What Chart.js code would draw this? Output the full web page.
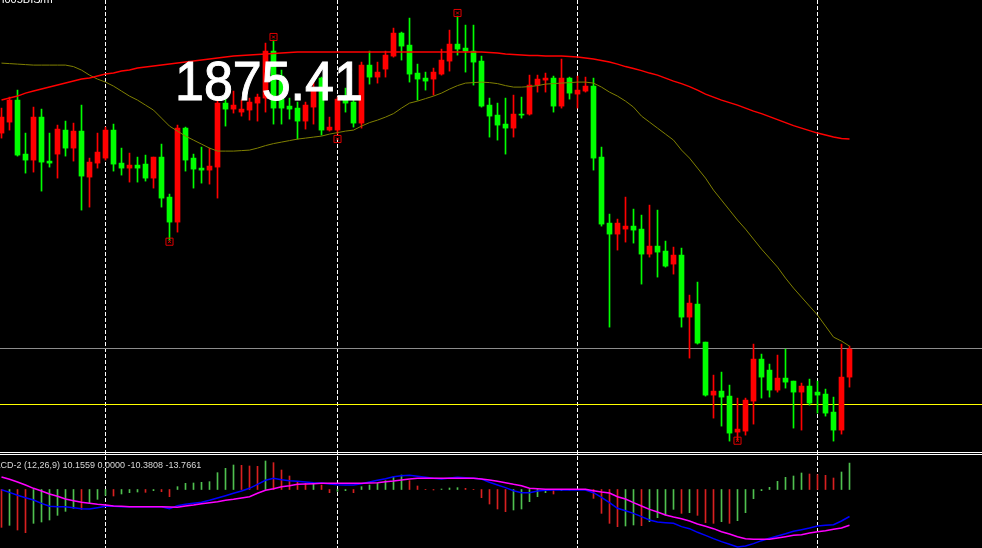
<!DOCTYPE html>
<html><head><meta charset="utf-8">
<script src="https://cdn.jsdelivr.net/npm/chart.js@4/dist/chart.umd.min.js"></script>
<style>
html,body{margin:0;padding:0;background:#000;overflow:hidden}
#wrap{position:relative;width:982px;height:548px;background:#000}
canvas{display:block}
</style></head><body><div id="wrap"><canvas id="c" width="982" height="548"></canvas></div>
<script>
// ---- price data (OHLC per bar) ----
const opens=[1897.0,1898.1,1900.3,1894.9,1894.3,1898.6,1894.2,1894.9,1897.3,1895.5,
1897.2,1892.6,1894.0,1894.5,1897.3,1894.0,1893.5,1893.8,1893.9,1892.5,
1894.6,1890.6,1888.1,1897.5,1894.5,1893.5,1893.3,1893.6,1900.0,1899.4,
1899.1,1899.3,1900.0,1900.5,1905.2,1902.7,1899.7,1899.5,1898.2,1899.6,
1902.5,1897.3,1897.3,1900.4,1900.1,1898.0,1903.8,1902.6,1903.4,1904.7,
1907.0,1905.8,1903.0,1902.5,1902.4,1902.9,1904.2,1905.9,1905.5,1905.2,
1904.2,1899.8,1898.8,1897.9,1897.5,1898.9,1898.9,1901.8,1902.3,1902.5,
1899.7,1902.5,1900.9,1901.2,1901.7,1894.6,1888.0,1886.9,1887.4,1887.7,
1887.4,1884.9,1885.7,1885.2,1883.9,1884.8,1878.6,1879.9,1876.1,1870.8,
1871.2,1870.7,1867.1,1867.2,1870.2,1874.4,1873.3,1871.3,1872.5,1872.2,
1871.1,1871.7,1871.1,1870.9,1869.1,1867.3,1872.6];
const highs=[1899.5,1900.6,1901.3,1897.0,1899.6,1899.4,1897.0,1897.8,1898.2,1898.0,
1899.8,1894.5,1897.0,1897.6,1897.9,1895.5,1895.0,1894.6,1894.8,1894.6,
1895.9,1890.9,1897.8,1897.6,1894.9,1895.6,1895.5,1900.3,1900.6,1901.2,
1900.3,1900.5,1900.9,1906.0,1906.3,1903.3,1900.5,1900.1,1900.1,1902.5,
1902.6,1898.6,1900.6,1901.5,1900.7,1904.1,1905.2,1904.1,1905.2,1907.5,
1907.1,1908.5,1903.9,1903.1,1903.5,1905.4,1907.3,1908.7,1907.8,1907.8,
1904.7,1900.5,1900.0,1900.5,1900.8,1900.6,1902.8,1902.8,1903.0,1902.7,
1904.4,1902.6,1902.7,1902.6,1902.5,1895.6,1888.9,1888.4,1890.6,1889.4,
1888.8,1889.8,1889.3,1886.2,1885.6,1885.5,1880.8,1882.1,1876.1,1872.8,
1873.1,1871.8,1870.5,1870.5,1875.9,1874.9,1873.9,1874.8,1875.4,1872.2,
1872.0,1872.4,1872.2,1871.4,1870.6,1875.9,1875.7];
const lows=[1896.5,1897.3,1894.7,1893.0,1893.1,1891.2,1893.6,1892.5,1894.7,1894.2,
1889.3,1889.6,1893.5,1894.3,1893.2,1892.8,1892.1,1892.1,1892.2,1891.5,
1889.6,1886.3,1887.1,1893.2,1891.5,1892.0,1891.9,1890.5,1897.7,1899.0,
1898.7,1898.3,1898.2,1899.1,1897.9,1897.9,1898.4,1896.4,1897.4,1897.9,
1896.8,1897.2,1896.9,1899.1,1897.6,1897.5,1901.9,1902.0,1902.6,1904.6,
1904.3,1902.1,1900.3,1901.3,1900.8,1902.8,1903.2,1904.8,1903.1,1901.8,
1899.6,1896.6,1896.3,1894.9,1896.6,1898.5,1898.8,1901.1,1901.1,1899.1,
1899.5,1900.4,1899.5,1901.1,1893.3,1887.7,1877.6,1885.3,1886.1,1886.0,
1881.9,1884.6,1882.6,1883.6,1882.9,1877.6,1874.5,1875.9,1870.7,1868.5,
1867.7,1866.2,1866.3,1866.8,1867.9,1870.5,1870.6,1871.1,1871.5,1867.5,
1867.3,1869.8,1869.0,1868.7,1866.2,1866.9,1871.6];
const closes=[1898.6,1900.3,1894.8,1894.3,1898.6,1894.1,1894.0,1897.4,1895.5,1897.2,
1892.7,1894.1,1895.1,1897.3,1893.9,1893.5,1893.8,1893.5,1892.5,1894.6,
1890.5,1888.1,1897.5,1894.3,1893.4,1893.3,1893.7,1900.0,1899.4,1899.8,
1899.4,1900.1,1900.6,1905.2,1899.5,1899.5,1899.4,1898.2,1899.8,1901.5,
1897.3,1897.6,1900.4,1900.0,1898.0,1903.8,1902.6,1903.1,1904.8,1907.0,
1905.7,1902.9,1902.4,1902.2,1903.1,1904.3,1905.9,1905.4,1905.2,1904.1,
1899.7,1898.7,1897.8,1897.5,1898.9,1898.8,1901.8,1902.4,1902.5,1899.7,
1902.5,1901.0,1901.3,1901.7,1894.5,1887.9,1886.9,1888.0,1887.7,1887.3,
1884.9,1885.7,1885.1,1883.7,1884.8,1878.6,1880.0,1876.0,1870.8,1871.2,
1870.6,1867.0,1867.4,1870.3,1874.4,1872.6,1871.3,1872.5,1872.1,1871.1,
1871.7,1870.0,1870.8,1869.0,1867.3,1872.6,1875.41];
// ---- moving averages ----
const maSlow=[1900.3,1900.5,1900.7,1901.0,1901.2,1901.4,1901.6,1901.8,1902.0,1902.2,
1902.4,1902.5,1902.7,1902.9,1903.0,1903.2,1903.3,1903.5,1903.6,1903.7,
1903.8,1903.9,1904.0,1904.1,1904.2,1904.3,1904.4,1904.5,1904.6,1904.7,
1904.75,1904.8,1904.85,1904.9,1904.95,1905.0,1905.05,1905.1,1905.1,1905.1,
1905.1,1905.1,1905.1,1905.1,1905.1,1905.1,1905.1,1905.1,1905.1,1905.1,
1905.1,1905.1,1905.1,1905.1,1905.1,1905.1,1905.1,1905.1,1905.1,1905.1,
1905.1,1905.05,1905.0,1904.9,1904.85,1904.8,1904.75,1904.75,1904.7,1904.7,
1904.7,1904.65,1904.6,1904.5,1904.4,1904.25,1904.1,1903.9,1903.65,1903.45,
1903.25,1903.0,1902.8,1902.5,1902.2,1901.95,1901.65,1901.3,1900.9,1900.6,
1900.3,1900.05,1899.8,1899.5,1899.2,1898.95,1898.65,1898.35,1898.05,1897.75,
1897.5,1897.25,1897.0,1896.8,1896.6,1896.45,1896.4];
const maFast=[1904.0,1903.95,1903.9,1903.85,1903.8,1903.8,1903.8,1903.8,1903.8,1903.65,
1903.3,1902.8,1902.4,1902.1,1901.7,1901.2,1900.7,1900.3,1899.8,1899.3,
1898.5,1897.7,1897.2,1896.7,1896.3,1895.9,1895.5,1895.2,1895.2,1895.2,
1895.25,1895.3,1895.5,1895.75,1895.95,1896.1,1896.25,1896.4,1896.5,1896.6,
1896.7,1896.9,1897.05,1897.2,1897.3,1897.7,1898.05,1898.3,1898.6,1898.95,
1899.5,1900.0,1900.2,1900.45,1900.7,1901.0,1901.4,1901.75,1902.0,1902.05,
1902.1,1902.05,1901.95,1901.75,1901.6,1901.6,1901.65,1901.75,1901.9,1901.95,
1902.0,1902.05,1902.1,1902.1,1902.0,1901.6,1901.1,1900.7,1900.2,1899.6,
1898.7,1898.1,1897.5,1896.9,1896.3,1895.3,1894.5,1893.5,1892.5,1891.3,
1890.3,1889.3,1888.3,1887.4,1886.4,1885.4,1884.5,1883.6,1882.5,1881.5,
1880.6,1879.7,1878.8,1877.7,1876.6,1876.2,1875.7];
// ---- MACD sub-window ----
const macdLine=[-0.1,-1.1,-2.24,-3.14,-4.04,-5.32,-6.47,-6.6,-6.6,-6.99,
-7.37,-7.5,-6.99,-6.47,-6.47,-6.6,-6.6,-6.6,-6.6,-6.6,
-6.6,-7.37,-6.22,-5.71,-5.32,-4.94,-4.17,-3.27,-2.37,-1.47,
-0.58,0.45,1.99,3.53,4.29,3.78,3.4,3.14,2.88,2.63,
2.5,2.12,1.86,1.73,1.73,2.24,2.88,3.53,4.17,4.94,
5.32,5.45,5.06,4.68,4.29,4.04,4.42,4.68,4.55,4.29,
4.04,2.76,1.73,0.71,-0.45,-1.22,-1.22,-0.58,-0.32,-0.19,
-0.19,-0.19,-0.19,-0.19,-1.22,-3.01,-5.06,-7.24,-8.14,-9.17,
-10.45,-11.73,-12.5,-12.76,-13.01,-14.29,-15.06,-16.47,-17.63,-18.91,
-20.06,-21.09,-22.12,-21.73,-20.83,-19.68,-18.78,-17.88,-16.99,-16.09,
-15.45,-14.81,-14.04,-13.78,-13.53,-12.12,-10.3808];
const signalLine=[4.81,3.91,2.88,1.73,0.45,-0.58,-1.73,-2.63,-3.65,-4.29,
-4.94,-5.32,-5.71,-5.96,-6.35,-6.47,-6.6,-6.6,-6.6,-6.6,
-6.6,-6.73,-6.86,-6.35,-5.96,-5.45,-5.06,-4.68,-4.17,-3.78,
-3.27,-2.76,-1.47,-0.32,0.32,1.09,1.47,1.99,2.12,2.24,
2.37,2.37,2.37,2.37,2.37,2.37,2.5,2.63,3.01,3.27,
3.65,4.04,4.29,4.29,4.29,4.29,4.29,4.29,4.29,4.29,
4.04,3.65,3.14,2.63,1.99,1.47,0.45,0.32,0.06,0.06,
0.06,0.06,0.06,0.06,-0.45,-0.96,-1.35,-2.76,-3.65,-5.06,
-6.35,-7.63,-8.65,-9.81,-10.58,-11.22,-12.12,-13.27,-14.17,-15.06,
-16.22,-17.12,-18.14,-18.91,-19.17,-19.17,-19.17,-18.65,-18.14,-17.63,
-17.37,-16.73,-16.22,-15.83,-15.32,-14.81,-13.7661];
const macdHist=[-14.55,-13.78,-15.58,-16.6,-13.01,-12.5,-11.73,-9.94,-8.4,-7.24,
-7.63,-5.32,-3.78,-2.24,-2.5,-1.73,-1.22,-0.96,-1.09,-0.45,
-0.83,-2.76,1.09,2.37,2.5,2.76,3.01,6.47,8.14,9.42,
9.29,9.04,8.91,10.96,10.32,7.5,5.19,3.01,2.37,2.5,
1.73,-1.22,-0.71,-0.45,-1.22,1.09,1.73,2.37,3.4,4.94,
5.58,3.4,1.35,0.06,-0.19,0.19,0.58,0.71,0.45,0.06,
-3.14,-5.58,-7.5,-8.53,-7.88,-7.5,-4.68,-2.76,-1.22,-1.73,
-0.45,-0.19,-0.06,-0.19,-3.4,-9.17,-13.01,-14.29,-14.04,-13.65,
-13.91,-12.37,-10.83,-9.81,-7.63,-9.17,-8.91,-9.94,-12.76,-13.01,
-12.37,-13.01,-11.99,-8.91,-3.53,-0.45,0.83,3.14,4.68,5.19,
6.35,5.96,5.71,5.45,4.42,6.73,10.1559];
// ---- annotations ----
const gridBars=[13,42,72,102];
const priceLevels=[1875.41,1869.89];
const markerBars=[21,34,42,57,92];
const markerPrices=[1886.14,1906.61,1896.41,1909.01,1866.24];
const bidText="1875.41";
const symbolText="i005BIS/m";
const macdLabel="MACD-2 (12,26,9) 10.1559 0.0000 -10.3808 -13.7661";

const BULL='#ff0000', BEAR='#00ff00';
const idx=opens.map((_,i)=>i);
const candleColor=ctx=>closes[ctx.dataIndex]>=opens[ctx.dataIndex]?BULL:BEAR;
const histColor=ctx=>{const i=ctx.dataIndex;return (i>0&&macdHist[i]>=macdHist[i-1])?'#4fc04f':'#d82020';};

const overlay={
  id:'overlay',
  beforeDatasetsDraw(chart){
    const c=chart.ctx;c.save();
    c.fillStyle='#ffffff';
    c.font="11px 'Liberation Sans'";
    c.fillText(symbolText,2,3);
    c.restore();
  },
  afterDatasetsDraw(chart){
    const c=chart.ctx;c.save();
    c.fillStyle='#ffffff';c.strokeStyle='#ffffff';c.lineWidth=1;
    c.translate(175,100);c.scale(0.945,1);
    c.font="55px 'Liberation Sans'";
    c.fillText(bidText,0,0);
    c.strokeText(bidText,0,0);
    c.restore();
  },
  afterDraw(chart){
    const c=chart.ctx;c.save();
    c.fillStyle='#ffffff';
    c.fillRect(0,452,chart.width,1);
    c.fillRect(0,454,chart.width,1);
    c.fillStyle='#d8d8d8';
    c.font="9px 'Liberation Sans'";
    c.fillText(macdLabel,-13,467.5);
    c.restore();
  }
};

new Chart(document.getElementById('c'),{
  type:'bar',
  data:{datasets:[
    {type:'line',data:markerBars.map((b,k)=>({x:b,y:markerPrices[k]})),showLine:false,pointStyle:'rect',pointRadius:5,pointBorderColor:'#e00000',pointBackgroundColor:'rgba(0,0,0,0)',pointBorderWidth:1,yAxisID:'y'},
    {type:'line',data:markerBars.map((b,k)=>({x:b,y:markerPrices[k]})),showLine:false,pointStyle:'crossRot',pointRadius:2,pointBorderColor:'#e00000',pointBorderWidth:1,yAxisID:'y'},
    {type:'line',data:idx.map(i=>({x:i,y:maSlow[i]})),borderColor:'#ff0000',borderWidth:1.5,pointRadius:0,tension:0,yAxisID:'y'},
    {type:'line',data:idx.map(i=>({x:i,y:maFast[i]})),borderColor:'#808000',borderWidth:1,pointRadius:0,tension:0,yAxisID:'y'},
    {type:'bar',data:idx.map(i=>({x:i,y:[opens[i],closes[i]]})),backgroundColor:candleColor,barThickness:5,minBarLength:1,grouped:false,borderWidth:0,yAxisID:'y'},
    {type:'bar',data:idx.map(i=>({x:i,y:[lows[i],highs[i]]})),backgroundColor:candleColor,barThickness:1,minBarLength:1,grouped:false,borderWidth:0,yAxisID:'y'},
    {type:'line',data:idx.map(i=>({x:i,y:signalLine[i]})),borderColor:'#ff00ff',borderWidth:1.5,pointRadius:0,tension:0,yAxisID:'y2'},
    {type:'line',data:idx.map(i=>({x:i,y:macdLine[i]})),borderColor:'#0000ff',borderWidth:1.5,pointRadius:0,tension:0,yAxisID:'y2'},
    {type:'bar',data:idx.map(i=>({x:i,y:macdHist[i]})),backgroundColor:histColor,barThickness:1,grouped:false,borderWidth:0,yAxisID:'y2'}
  ]},
  options:{
    responsive:false,animation:false,events:[],
    layout:{padding:0,autoPadding:false},
    plugins:{legend:{display:false},tooltip:{enabled:false}},
    scales:{
      x:{type:'linear',min:-0.1875,max:122.5625,offset:false,bounds:'data',
        grid:{display:true,color:'#ffffff',lineWidth:1,drawTicks:false,offset:false},
        border:{display:false,dash:[4,2]},
        ticks:{display:false},
        afterFit:s=>{s.height=0;},
        afterBuildTicks:a=>{a.ticks=gridBars.map(v=>({value:v}));}},
      y:{type:'linear',position:'left',min:1855.51,max:1910.31,bounds:'data',
        grid:{display:true,drawTicks:false,lineWidth:1,color:ctx=>(ctx.tick&&ctx.tick.value===priceLevels[0])?'#8c8c8c':'#ffff00'},
        border:{display:false},
        ticks:{display:false},
        afterFit:s=>{s.width=0;},
        afterBuildTicks:a=>{a.ticks=priceLevels.map(v=>({value:v}));}},
      y2:{type:'linear',display:false,min:-22.5,max:188.269}
    }
  },
  plugins:[overlay]
});
</script></body></html>
